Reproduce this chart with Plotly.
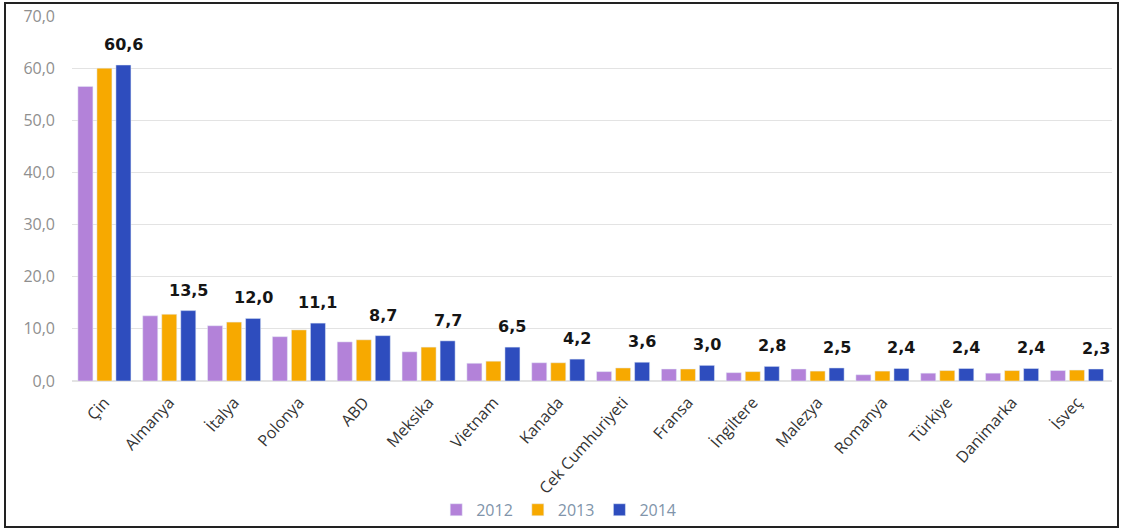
import plotly.graph_objects as go

countries = ["Çin", "Almanya", "İtalya", "Polonya", "ABD", "Meksika", "Vietnam", "Kanada",
             "Cek Cumhuriyeti", "Fransa", "İngiltere", "Malezya", "Romanya", "Türkiye",
             "Danimarka", "İsveç"]
v2012 = [56.5, 12.5, 10.6, 8.5, 7.5, 5.6, 3.4, 3.5, 1.8, 2.3, 1.6, 2.3, 1.2, 1.5, 1.5, 2.0]
v2013 = [60.0, 12.8, 11.3, 9.8, 7.9, 6.5, 3.8, 3.5, 2.5, 2.3, 1.8, 1.9, 1.9, 2.0, 2.0, 2.1]
v2014 = [60.6, 13.5, 12.0, 11.1, 8.7, 7.7, 6.5, 4.2, 3.6, 3.0, 2.8, 2.5, 2.4, 2.4, 2.4, 2.3]
y_ticks = [0, 10, 20, 30, 40, 50, 60, 70]

L, R, T, B = 72, 22, 16, 151
W, H = 1134, 532
pw, ph = W - L - R, H - T - B
BARGAP = 0.12
slot_px = pw / len(countries) * (1 - BARGAP) / 3

fig = go.Figure()
fig.add_trace(go.Bar(name="2012", x=countries, y=v2012, marker_color="#B382D9"))
fig.add_trace(go.Bar(name="2013", x=countries, y=v2013, marker_color="#F7A900"))
fig.add_trace(go.Bar(name="2014", x=countries, y=v2014, marker_color="#2E4DBE"))

annotations = [
    dict(x=c, y=v, xref="x", yref="y", text=f"{v:.1f}".replace(".", ","),
         showarrow=False, yanchor="bottom", xanchor="center",
         xshift=slot_px, yshift=9,
         font=dict(family="DejaVu Sans", size=16, color="#151515", weight="bold"))
    for c, v in zip(countries, v2014)
]

fig.update_layout(
    width=W, height=H,
    margin=dict(l=L, r=R, t=T, b=B, autoexpand=False),
    paper_bgcolor="white", plot_bgcolor="white",
    barmode="group", bargap=BARGAP, bargroupgap=0.21,
    separators=",.",
    font=dict(family="Open Sans"),
    legend=dict(orientation="h", x=0.468, y=-0.353, xanchor="center", yanchor="middle",
                font=dict(size=16, color="#8094AA"), bgcolor="rgba(0,0,0,0)",
                itemwidth=30, tracegroupgap=0),
    xaxis=dict(tickangle=-48, tickfont=dict(size=16, color="#333333"), showline=False,
               ticks="", ticklabelstandoff=8),
    yaxis=dict(range=[0, 70], tickvals=y_ticks, tickformat=".1f", showgrid=True,
               gridcolor="#E3E3E3", gridwidth=1, zeroline=True, zerolinecolor="#E3E3E3",
               tickfont=dict(size=16, color="#8F8F8F"), ticklabelstandoff=16),
    annotations=annotations,
    shapes=[dict(type="rect", xref="paper", yref="paper",
                 x0=(5 - L) / pw, x1=(1118 - L) / pw,
                 y0=(H - B - 527) / ph, y1=(H - B - 3) / ph,
                 line=dict(color="#222222", width=2))],
)
fig.write_html("out.html", config={"displayModeBar": False},
               post_script="document.body.style.margin='0';")
